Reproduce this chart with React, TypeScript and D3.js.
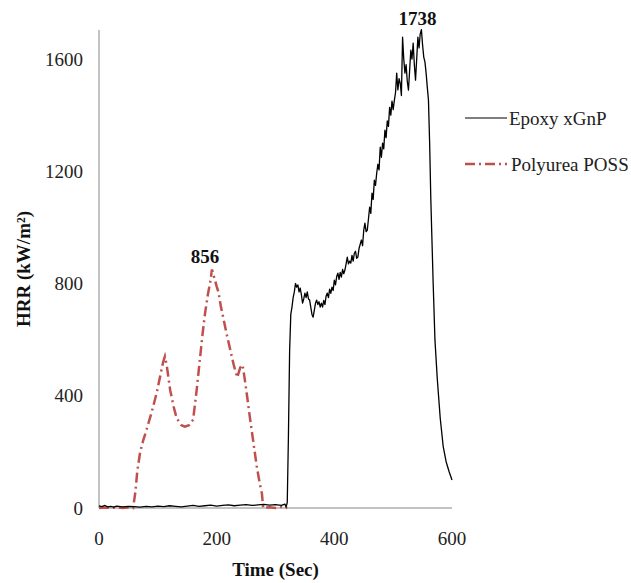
import * as d3 from 'd3';
import React from 'react';

// time (sec) / HRR (kW/m2) pairs
const epoxyTime = [0, 5, 10, 15, 20, 25, 30, 40, 50, 60, 70, 80, 90, 100, 110, 120, 130, 140, 150, 160, 170, 180, 190, 200, 210, 220, 230, 240, 250, 260, 270, 280, 290, 300, 310, 316, 318,
  320, 322, 324, 326, 328, 330, 332, 334, 336, 338, 340, 342, 344, 346, 348, 350, 352, 354, 356, 358, 360, 362, 364, 366, 368, 370, 372, 374, 376, 378, 380,
  382, 384, 386, 388, 390, 392, 394, 396, 398, 400, 402, 404, 406, 408, 410, 412, 414, 416, 418, 420, 422, 424, 426, 428, 430, 432, 434, 436, 438, 440,
  442, 444, 446, 448, 450, 452, 454, 456, 458, 460, 462, 464, 466, 468, 470, 472, 474, 476, 478, 480, 482, 484, 486, 488, 490, 492, 494, 496, 498, 500,
  502, 504, 506, 508, 510, 512, 514, 516, 518, 520, 522, 524, 526, 528, 530, 532, 534, 536, 538, 540, 542, 544, 546, 548, 550, 552, 554, 556, 558, 560,
  562, 564, 566, 568, 571, 575, 580, 585, 590, 595, 600];
const epoxyHRR = [8, 5, 9, 4, 6, 3, 7, 4, 6, 5, 3, 6, 4, 7, 5, 8, 6, 4, 7, 9, 6, 8, 10, 7, 9, 11, 8, 10, 12, 9, 11, 13, 10, 12, 9, 14, 3,
  20, 260, 560, 690, 716, 750, 770, 800, 787, 795, 770, 784, 760, 730, 745, 766, 750, 770, 745, 741, 715, 690, 680, 705, 730, 741, 725, 735, 716, 730, 716,
  740, 725, 755, 766, 750, 780, 765, 787, 775, 812, 795, 825, 837, 815, 840, 823, 850, 835, 848, 870, 894, 870, 880, 873, 900, 880, 908, 915, 890, 894,
  925, 940, 955, 935, 990, 1015, 985, 990, 1030, 1072, 1050, 1122, 1100, 1168, 1150, 1193, 1225, 1205, 1286, 1250, 1300, 1280, 1347, 1320, 1380, 1360, 1428, 1400, 1450, 1420,
  1453, 1480, 1550, 1490, 1530, 1514, 1470, 1678, 1600, 1550, 1580, 1520, 1489, 1560, 1632, 1600, 1657, 1580, 1525, 1600, 1678, 1640, 1690, 1705, 1650, 1607, 1590, 1550, 1500, 1453,
  1300, 1100, 950, 800, 600, 460, 320, 220, 165, 130, 100];

const possTime = [0, 10, 20, 30, 40, 50, 58, 62, 65, 70, 75, 81, 90, 98, 104, 109, 112, 115, 121, 127, 132, 140, 146, 153, 160, 166, 172, 176, 180, 185, 189, 192,
  196, 200, 203, 207, 211, 217, 223, 229, 235, 240, 244, 247, 251, 256, 262, 268, 273, 277, 279, 290, 300, 310, 320];
const possHRR = [0, 2, 0, 3, 0, 2, 0, 60, 130, 200, 240, 280, 345, 410, 470, 520, 540, 510, 420, 360, 320, 295, 290, 295, 315, 420, 540, 620, 690, 760, 805, 850,
  820, 790, 770, 720, 680, 620, 565, 510, 465, 500, 510, 470, 410, 330, 240, 150, 90, 50, 0, 3, 0, 4, 0];

const xTicks = [0, 200, 400, 600];
const yTicks = [0, 400, 800, 1200, 1600];
const seriesNames = ['Epoxy xGnP', 'Polyurea POSS'];
// peak annotations: [time, drawn value, text]
const peakTime = [192, 548];
const peakValue = [850, 1705];
const peakText = ['856', '1738'];

const W = 631;
const H = 583;
const font = '"Liberation Serif", "Times New Roman", serif';
const red = '#c0504d';

export default function App() {
  const x = d3.scaleLinear().domain([0, 600]).range([99, 452]);
  const y = d3.scaleLinear().domain([0, 1700]).range([508, 31]);

  const line = d3.line<[number, number]>()
    .x(d => x(d[0]))
    .y(d => y(d[1]));

  const epoxy = epoxyTime.map((t, i) => [t, epoxyHRR[i]] as [number, number]);
  const poss = possTime.map((t, i) => [t, possHRR[i]] as [number, number]);

  return (
    <svg width={W} height={H} style={{ position: 'absolute', left: 0, top: 0, background: '#fff' }} fontFamily={font}>
      {/* axes */}
      <line x1={x(0)} x2={x(0)} y1={30} y2={y(0)} stroke="#868686" strokeWidth={1} />
      <line x1={x(0)} x2={x(600)} y1={y(0)} y2={y(0)} stroke="#868686" strokeWidth={1} />

      {yTicks.map(t => (
        <text key={'y' + t} x={83} y={y(t) + 6.5} textAnchor="end" fontSize={19} fill="#222">{t}</text>
      ))}
      {xTicks.map(t => (
        <text key={'x' + t} x={x(t)} y={545} textAnchor="middle" fontSize={19} fill="#222">{t}</text>
      ))}

      <text x={(x(0) + x(600)) / 2} y={576} textAnchor="middle" fontSize={19} fontWeight="bold" fill="#111">Time (Sec)</text>
      <text transform={`translate(30,${(30 + y(0)) / 2}) rotate(-90)`} textAnchor="middle" fontSize={19} fontWeight="bold" fill="#111">HRR (kW/m²)</text>

      {/* series */}
      <path d={line(poss) || ''} fill="none" stroke={red} strokeWidth={2.5} strokeDasharray="10,4,2,4" />
      <path d={line(epoxy) || ''} fill="none" stroke="#000" strokeWidth={1.3} strokeLinejoin="round" />

      {peakText.map((txt, i) => (
        <text key={txt} x={x(peakTime[i]) - (i === 0 ? 7 : 4)} y={y(peakValue[i]) - (i === 0 ? 7 : 5)} textAnchor="middle" fontSize={19} fontWeight="bold" fill="#111">{txt}</text>
      ))}

      {/* legend */}
      <line x1={465} x2={507} y1={118} y2={118} stroke="#000" strokeWidth={1.2} />
      <text x={509} y={124.5} fontSize={19} fill="#222">{seriesNames[0]}</text>
      <line x1={465} x2={507} y1={164} y2={164} stroke={red} strokeWidth={2.5} strokeDasharray="10,4,2,4" />
      <text x={511} y={170.5} fontSize={19} fill="#222">{seriesNames[1]}</text>
    </svg>
  );
}
